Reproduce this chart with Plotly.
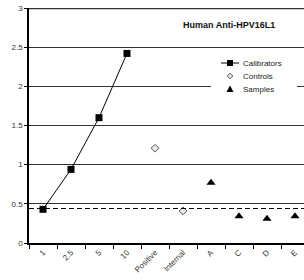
import plotly.graph_objects as go

categories = ["1", "2.5", "5", "10", "Positive", "Internal", "A", "C", "D", "E"]
cal_x = ["1", "2.5", "5", "10"]
cal_y = [0.43, 0.94, 1.60, 2.42]
ctrl_x = ["Positive", "Internal"]
ctrl_y = [1.21, 0.41]
samp_x = ["A", "C", "D", "E"]
samp_y = [0.77, 0.34, 0.31, 0.34]
cutoff = 0.44
y_ticks = [0, 0.5, 1, 1.5, 2, 2.5, 3]
legend_names = ["Calibrators", "Controls", "Samples"]

FONT = "Liberation Sans, Arial, sans-serif"
L, T, W, H = 29, 8, 275, 235  # plot area in pixels


def xp(px):
    return (px - L) / W


def yp(py):
    return (T + H - py) / H


fig = go.Figure()
fig.add_trace(go.Scatter(
    x=cal_x, y=cal_y, mode="lines+markers", name=legend_names[0],
    line=dict(color="black", width=1),
    marker=dict(symbol="square", size=7, color="black"),
))
fig.add_trace(go.Scatter(
    x=ctrl_x, y=ctrl_y, mode="markers", name=legend_names[1],
    marker=dict(symbol="diamond", size=6, color="#e8e8e8",
                line=dict(color="#555555", width=1)),
))
fig.add_trace(go.Scatter(
    x=samp_x, y=samp_y, mode="markers", name=legend_names[2],
    marker=dict(symbol="triangle-up", size=8, color="black"),
))

# cutoff line and heavy top border
fig.add_shape(type="line", xref="paper", yref="y", x0=0, x1=1, y0=cutoff, y1=cutoff,
              line=dict(color="black", width=1, dash="5px,3px"))
fig.add_shape(type="line", xref="paper", yref="y", x0=0, x1=1, y0=3, y1=3,
              line=dict(color="#333333", width=2.5))

# title
fig.add_annotation(x=xp(229), y=yp(25), xref="paper", yref="paper", showarrow=False,
                   xanchor="center", yanchor="middle",
                   text="<b>Human Anti-HPV16L1</b>",
                   font=dict(size=9, color="#111111", family=FONT))

# manual legend (compact like the original)
fig.add_shape(type="rect", xref="paper", yref="paper",
              x0=xp(211), x1=xp(297), y0=yp(97), y1=yp(55),
              fillcolor="white", line=dict(width=0), layer="above")
rows = [63, 76, 89]
mx = 230
fig.add_shape(type="line", xref="paper", yref="paper", x0=xp(221), x1=xp(239),
              y0=yp(rows[0]), y1=yp(rows[0]), line=dict(color="black", width=1), layer="above")
fig.add_shape(type="rect", xref="paper", yref="paper", x0=xp(mx - 3), x1=xp(mx + 3),
              y0=yp(rows[0] + 3), y1=yp(rows[0] - 3), fillcolor="black",
              line=dict(width=0), layer="above")
r = 2.8
fig.add_shape(type="path", xref="paper", yref="paper", layer="above",
              path=f"M {xp(mx - r)} {yp(rows[1])} L {xp(mx)} {yp(rows[1] - r)} "
                   f"L {xp(mx + r)} {yp(rows[1])} L {xp(mx)} {yp(rows[1] + r)} Z",
              fillcolor="#e8e8e8", line=dict(color="#555555", width=1))
fig.add_shape(type="path", xref="paper", yref="paper", layer="above",
              path=f"M {xp(mx - 3.5)} {yp(rows[2] + 3)} L {xp(mx)} {yp(rows[2] - 3.5)} "
                   f"L {xp(mx + 3.5)} {yp(rows[2] + 3)} Z",
              fillcolor="black", line=dict(width=0))
for name, ry in zip(legend_names, rows):
    fig.add_annotation(x=xp(241), y=yp(ry), xref="paper", yref="paper", showarrow=False,
                       xanchor="left", yanchor="middle", text=name,
                       font=dict(size=8, color="#222222", family=FONT))

fig.update_layout(
    width=304, height=280,
    margin=dict(l=L, r=304 - L - W, t=T, b=280 - T - H, autoexpand=False),
    paper_bgcolor="white", plot_bgcolor="white",
    font=dict(family=FONT, size=8, color="#222222"),
    showlegend=False,
    xaxis=dict(
        type="category", categoryorder="array", categoryarray=categories,
        range=[-0.5, -0.5 + W / 28], automargin=False,
        showgrid=False, zeroline=False,
        showline=True, linecolor="black", linewidth=1.5,
        ticks="outside", ticklen=4, tickcolor="black", tickson="boundaries",
        tickangle=-45, tickfont=dict(size=8, color="#333333"),
    ),
    yaxis=dict(
        range=[0, 3], tickvals=y_ticks, ticktext=[f"{v:g}" for v in y_ticks],
        automargin=False,
        showgrid=True, gridcolor="#333333", gridwidth=1,
        zeroline=False,
        showline=True, linecolor="black", linewidth=1.5,
        ticks="outside", ticklen=3, tickcolor="black",
        tickfont=dict(size=8, color="#333333"),
    ),
)

fig.write_html("out.html", config={"displayModeBar": False},
               post_script="document.body.style.margin='0';")
